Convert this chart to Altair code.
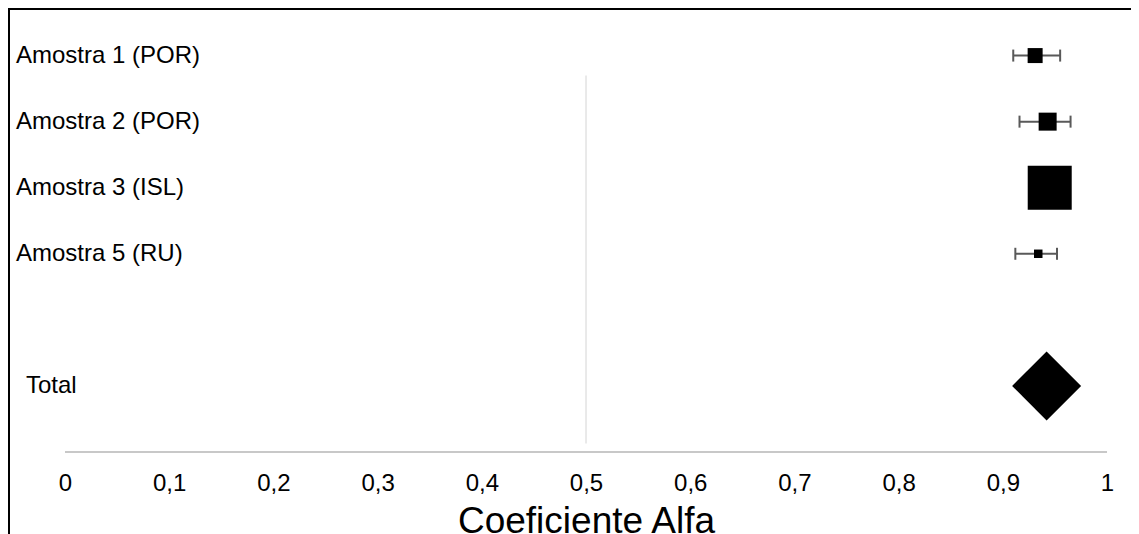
import altair as alt
import pandas as pd

# ---- data ----
amostras = ["Amostra 1 (POR)", "Amostra 2 (POR)", "Amostra 3 (ISL)", "Amostra 5 (RU)"]
linha = [6, 5, 4, 3]
alfa = [0.931, 0.943, 0.945, 0.934]
ic_inf = [0.910, 0.916, 0.928, 0.912]
ic_sup = [0.955, 0.965, 0.962, 0.952]
peso = [225, 324, 1936, 72]          # marker area (weight)

total_rotulo = ["Total"]
total_linha = [1]
total_alfa = [0.942]
total_peso = [4761]

ref_x = [0.5]
ref_y0 = [0.13]
ref_y1 = [5.7]

eixo_x0 = [0.0]
eixo_x1 = [1.0]
eixo_y = [0.0]

tick_vals = [0, 0.1, 0.2, 0.3, 0.4, 0.5, 0.6, 0.7, 0.8, 0.9, 1]
x_dom = [-0.0547, 1.0230]
y_dom = [0, 6.72]

FONT = "Liberation Sans"
W, H = 1123, 444
PAD_BOTTOM = 82

df = pd.DataFrame({"amostra": amostras, "linha": linha, "alfa": alfa,
                   "lo": ic_inf, "hi": ic_sup, "peso": peso})
dft = pd.DataFrame({"amostra": total_rotulo, "linha": total_linha,
                    "alfa": total_alfa, "peso": total_peso})
dref = pd.DataFrame({"x": ref_x, "y0": ref_y0, "y1": ref_y1})
daxis = pd.DataFrame({"x0": eixo_x0, "x1": eixo_x1, "y": eixo_y})
dnone = pd.DataFrame({"a": [0]})

xs = alt.Scale(domain=x_dom, nice=False, zero=False)
ys = alt.Scale(domain=y_dom, nice=False, zero=False)

x_axis = alt.Axis(
    values=tick_vals, format=".1~f",
    labelExpr="replace(datum.label, '.', ',')",
    domain=False, ticks=False, tickSize=0, grid=False,
    labelFont=FONT, labelFontSize=24, labelColor="#000000",
    labelPadding=19, labelBaseline="top",
    title="Coeficiente Alfa", titleFont=FONT, titleFontSize=37,
    titleFontWeight="normal", titleColor="#000000",
    titleX=578, titleY=80, titleAlign="center", titleBaseline="alphabetic",
)


def X(field):
    return alt.X(field, type="quantitative", scale=xs, axis=x_axis)


def Y(field):
    return alt.Y(field, type="quantitative", scale=ys, axis=None)


axis_line = alt.Chart(daxis).mark_rule(color="#c8c8c8", strokeWidth=2).encode(
    x=X("x0"), x2="x1", y=Y("y"))

ref_line = alt.Chart(dref).mark_rule(color="#e3e3e3", strokeWidth=1.5).encode(
    x=X("x"), y=Y("y0"), y2="y1")

err = alt.Chart(df).mark_rule(color="#595959", strokeWidth=2).encode(
    x=X("lo"), x2="hi", y=Y("linha"))
cap_lo = alt.Chart(df).mark_tick(orient="vertical", size=12, thickness=2,
                                 color="#595959", opacity=1).encode(
    x=X("lo"), y=Y("linha"))
cap_hi = alt.Chart(df).mark_tick(orient="vertical", size=12, thickness=2,
                                 color="#595959", opacity=1).encode(
    x=X("hi"), y=Y("linha"))

squares = alt.Chart(df).mark_point(shape="square", filled=True, opacity=1,
                                   color="#000000").encode(
    x=X("alfa"), y=Y("linha"),
    size=alt.Size("peso", type="quantitative", scale=None, legend=None))

diamond = alt.Chart(dft).mark_point(shape="diamond", filled=True, opacity=1,
                                    color="#000000").encode(
    x=X("alfa"), y=Y("linha"),
    size=alt.Size("peso", type="quantitative", scale=None, legend=None))

labels = alt.Chart(df).mark_text(align="left", baseline="middle", font=FONT,
                                 fontSize=24, color="#000000").encode(
    x=alt.value(8), y=Y("linha"), text="amostra")
labels_t = alt.Chart(dft).mark_text(align="left", baseline="middle", font=FONT,
                                    fontSize=24, color="#000000").encode(
    x=alt.value(18), y=Y("linha"), text="amostra")

frame_top = alt.Chart(dnone).mark_rule(color="#000000", strokeWidth=2).encode(
    x=alt.value(0), x2=alt.value(W), y=alt.value(1))
frame_left = alt.Chart(dnone).mark_rule(color="#000000", strokeWidth=2).encode(
    x=alt.value(1), y=alt.value(0), y2=alt.value(H + PAD_BOTTOM))

chart = alt.layer(
    axis_line, ref_line, err, cap_lo, cap_hi, squares, diamond,
    labels, labels_t, frame_top, frame_left
).properties(
    width=W, height=H,
    padding={"left": 0, "top": 0, "right": 0, "bottom": PAD_BOTTOM},
    autosize=alt.AutoSizeParams(type="none"),
    background="#ffffff",
).configure_view(stroke=None)

chart.save("out.html", embed_options={"renderer": "svg", "actions": False})
